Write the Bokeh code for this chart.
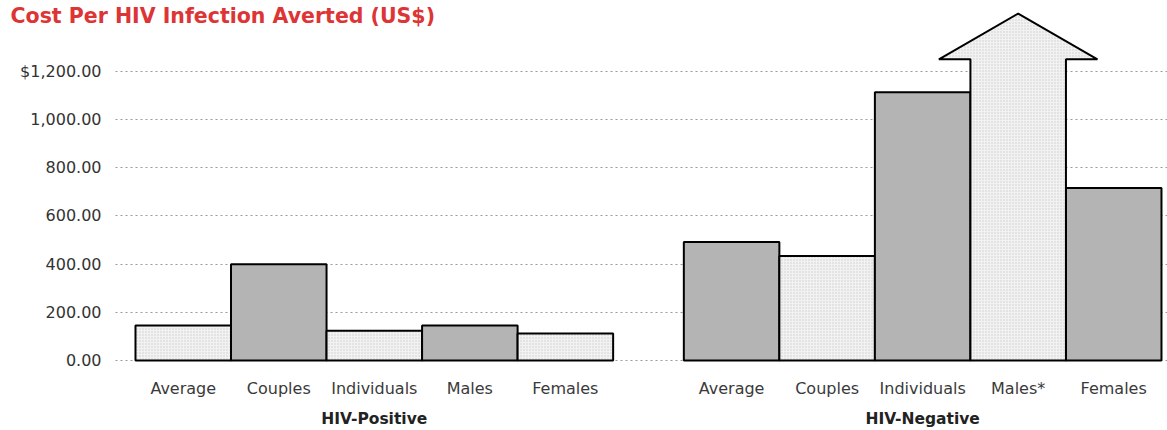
from bokeh.plotting import figure
from bokeh.models import (Range1d, FixedTicker, Label, ColumnDataSource,
                          LinearAxis)
from bokeh.embed import file_html
from bokeh.resources import INLINE

# ---- data -------------------------------------------------------------
groups = ["HIV-Positive", "HIV-Negative"]
categories = ["Average", "Couples", "Individuals", "Males", "Females"]
neg_labels = ["Average", "Couples", "Individuals", "Males*", "Females"]

positive_cost = [145, 400, 124, 145, 112]
negative_cost = [492, 434, 1113, None, 716]   # Males* is off the scale

# Off-scale arrow for HIV-Negative males: shaft top, arrow tip
males_neg_arrow = [1250, 1440]

y_ticks = [0, 200, 400, 600, 800, 1000, 1200]
y_tick_labels = ["0.00", "200.00", "400.00", "600.00", "800.00", "1,000.00", "$1,200.00"]

title_text = "Cost Per HIV Infection Averted (US$)"

# ---- layout / styling -------------------------------------------------
DARK = "#b4b4b4"
LIGHT = "#f2f2f2"
HATCH = "#cccccc"
FONT = "DejaVu Sans"
GROUP_GAP = 0.74          # space between the two groups, in bar widths
X_START, X_END = -1.413, 10.803
Y_START, Y_END = -45.5, 1494
Y_AXIS_AT = -0.209

# bar centres: one unit per bar, groups separated by GROUP_GAP
centres, labels, values, fills, hatches = [], [], [], [], []
group_centres = []
for gi, (labs, vals) in enumerate([(categories, positive_cost), (neg_labels, negative_cost)]):
    offset = gi * (len(categories) + GROUP_GAP)
    group_centres.append(offset + len(labs) / 2)
    for i, (lab, v) in enumerate(zip(labs, vals)):
        centres.append(offset + i + 0.5)
        labels.append(lab)
        values.append(v)
        light = (i + gi) % 2 == 0
        fills.append(LIGHT if light else DARK)
        hatches.append("dot" if light else " ")

bars = [k for k, v in enumerate(values) if v is not None]
src = ColumnDataSource(dict(x=[centres[k] for k in bars], top=[values[k] for k in bars],
                            fill=[fills[k] for k in bars], hatch=[hatches[k] for k in bars]))

p = figure(width=1167, height=430, x_range=Range1d(X_START, X_END),
           y_range=Range1d(Y_START, Y_END), x_axis_location=None, y_axis_location=None,
           output_backend="svg", toolbar_location=None,
           min_border_left=0, min_border_right=0, min_border_top=0,
           min_border_bottom=0)
p.outline_line_color = None
p.background_fill_color = "white"

p.vbar(x="x", top="top", bottom=0, width=1.0, source=src, fill_color="fill",
       hatch_pattern="hatch", hatch_color=HATCH, hatch_scale=3, hatch_weight=1,
       line_color="black", line_width=2)

# arrow for the off-scale bar
k = values.index(None)
c = centres[k]
shaft_top, tip = males_neg_arrow
ax = [c - 0.5, c - 0.5, c - 0.83, c, c + 0.83, c + 0.5, c + 0.5]
ay = [0, shaft_top, shaft_top, tip, shaft_top, shaft_top, 0]
p.patch(ax, ay, fill_color=LIGHT, hatch_pattern="dot", hatch_color=HATCH,
        hatch_scale=3, hatch_weight=1, line_color="black", line_width=2)

# y axis, drawn at a fixed position inside the frame
yaxis = LinearAxis(ticker=FixedTicker(ticks=y_ticks), fixed_location=Y_AXIS_AT)
yaxis.major_label_overrides = dict(zip(y_ticks, y_tick_labels))
yaxis.axis_line_color = None
yaxis.major_tick_line_color = None
yaxis.minor_tick_line_color = None
yaxis.major_tick_out = 0
yaxis.major_label_standoff = 14
yaxis.major_label_text_font = FONT
yaxis.major_label_text_font_size = "16px"
yaxis.major_label_text_color = "#333333"
p.add_layout(yaxis, "left")

p.ygrid.ticker = FixedTicker(ticks=y_ticks)
p.ygrid.cross_bounds = (Y_AXIS_AT, X_END)
p.ygrid.grid_line_color = "#9a9a9a"
p.ygrid.grid_line_dash = "2 3"
p.ygrid.grid_line_width = 1
p.xgrid.grid_line_color = None


def bottom_axis(ticks, texts, size, style, color, standoff):
    axis = LinearAxis(ticker=FixedTicker(ticks=ticks))
    axis.major_label_overrides = dict(zip(ticks, texts))
    axis.axis_line_color = None
    axis.major_tick_line_color = None
    axis.minor_tick_line_color = None
    axis.major_tick_out = 0
    axis.major_tick_in = 0
    axis.major_label_standoff = standoff
    axis.major_label_text_font = FONT
    axis.major_label_text_font_size = size
    axis.major_label_text_font_style = style
    axis.major_label_text_color = color
    return axis


p.add_layout(bottom_axis(centres, labels, "16px", "normal", "#3a3a3a", 7), "below")
p.add_layout(bottom_axis(group_centres, groups, "15.5px", "bold", "#222222", 9), "below")

title = Label(x=10, y=Y_END, text=title_text, x_units="screen",
              text_font=FONT, text_font_size="20.5px", text_font_style="bold",
              text_color="#dd3535", text_baseline="top", text_align="left",
              y_offset=-3)
p.add_layout(title)

open("out.html", "w").write(file_html(p, INLINE))
